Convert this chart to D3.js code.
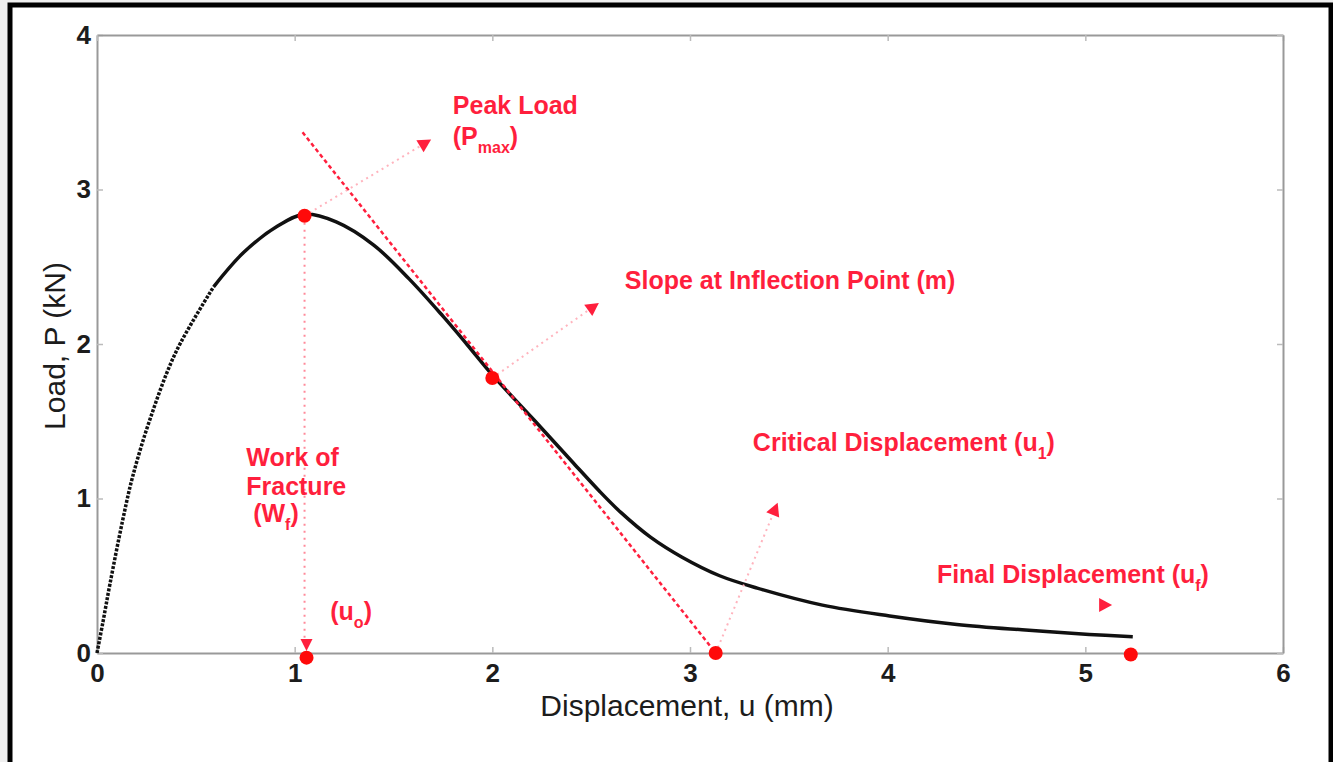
<!DOCTYPE html>
<html>
<head>
<meta charset="utf-8">
<script src="https://cdnjs.cloudflare.com/ajax/libs/d3/7.8.5/d3.min.js"></script>
<style>
  body { margin: 0; background: #efefef; }
  svg { display: block; }
  text { font-family: "Liberation Sans", Arial, sans-serif; }
</style>
</head>
<body>
<svg id="chart" width="1333" height="762"></svg>
<script>
// load-displacement curve (u in mm, P in kN)
var dispU = [0, 0.03, 0.066, 0.13, 0.18, 0.27, 0.40, 0.59, 0.74, 0.91, 1.05, 1.21, 1.40, 1.58, 1.75, 1.87, 2.0,
    2.21, 2.41, 2.54, 2.65, 2.80, 2.96, 3.15, 3.34, 3.67, 4.01, 4.35, 4.68, 5.02, 5.24]
var loadP = [0, 0.20, 0.45, 0.86, 1.14, 1.52, 1.95, 2.37, 2.59, 2.76, 2.84, 2.79, 2.64, 2.42, 2.18, 2.00, 1.80,
    1.51, 1.23, 1.05, 0.91, 0.75, 0.62, 0.50, 0.42, 0.31, 0.24, 0.185, 0.15, 0.12, 0.105]

// red marker dots: peak, inflection, critical, final, u0
var markU = [1.05, 2.0, 3.13, 5.23, 1.06]
var markP = [2.83, 1.78, 0, -0.01, -0.03]

// tangent at the inflection point
var tangentU = [1.04, 3.13]
var tangentP = [3.37, 0]

// annotation arrows: start -> head
var arrowFromU = [1.05, 2.0, 3.13, 5.02]
var arrowFromP = [2.83, 1.78, 0, 0.31]
var arrowToU = [1.66, 2.51, 3.43, 5.10]
var arrowToP = [3.30, 2.24, 0.93, 0.31]

var xTicks = [0, 1, 2, 3, 4, 5, 6]
var yTicks = [0, 1, 2, 3, 4]

const margin = { top: 35, right: 50, bottom: 109, left: 97 };
const width = 1283 - margin.left;
const height = 653 - margin.top;
const red = '#ff1f3d';

var svg = d3.select('#chart')

// frame
svg.append('rect').attr('x', 10).attr('y', 5).attr('width', 1321).attr('height', 780)
    .attr('fill', 'white').attr('stroke', 'black').attr('stroke-width', 5)

var xScale = d3.scaleLinear().domain([0, 6]).range([0, width])
var yScale = d3.scaleLinear().domain([0, 4]).range([height, 0])

var g = svg.append('g').attr('transform', 'translate(' + margin.left + ',' + margin.top + ')')

// axes, matlab style box with inward ticks
var xAxis = d3.axisBottom(xScale).tickValues(xTicks).tickSizeInner(-6).tickSizeOuter(0).tickPadding(11)
    .tickFormat(d3.format('d'))
var yAxis = d3.axisLeft(yScale).tickValues(yTicks).tickSizeInner(-6).tickSizeOuter(0).tickPadding(6)
    .tickFormat(d3.format('d'))

g.append('g').attr('transform', 'translate(0,' + height + ')').call(xAxis)
g.append('g').call(yAxis)
g.append('g').call(d3.axisTop(xScale).tickValues(xTicks).tickSizeInner(-6).tickSizeOuter(0).tickFormat(''))
g.append('g').attr('transform', 'translate(' + width + ',0)')
    .call(d3.axisRight(yScale).tickValues(yTicks).tickSizeInner(-6).tickSizeOuter(0).tickFormat(''))

g.selectAll('.domain').attr('stroke', '#999').attr('stroke-width', 2)
g.selectAll('.tick line').attr('stroke', '#bbb').attr('stroke-width', 1.5)
g.selectAll('.tick text').attr('fill', '#1c1c1c').style('font-size', '26px').style('font-weight', 'bold')

// axis titles
svg.append('text')
    .attr('x', margin.left + width / 2 - 3).attr('y', 716)
    .attr('text-anchor', 'middle').attr('fill', '#1c1c1c').style('font-size', '30px')
    .text('Displacement, u (mm)')
svg.append('text')
    .attr('transform', 'translate(65,346) rotate(-90)')
    .attr('text-anchor', 'middle').attr('fill', '#1c1c1c').style('font-size', '30px')
    .text('Load, P (kN)')

var curve = dispU.map((u, i) => [u, loadP[i]])
var line = d3.line().x(d => xScale(d[0])).y(d => yScale(d[1])).curve(d3.curveCatmullRom)

// sparse rising part looks dotted, the rest is solid
g.append('path').datum(curve.slice(0, 8))
    .attr('d', line).attr('fill', 'none').attr('stroke', '#111')
    .attr('stroke-width', 3.5).attr('stroke-dasharray', '3,1.5')
g.append('path').datum(curve.slice(7))
    .attr('d', line).attr('fill', 'none').attr('stroke', '#111').attr('stroke-width', 3.5)

// tangent line
g.append('line')
    .attr('x1', xScale(tangentU[0])).attr('y1', yScale(tangentP[0]))
    .attr('x2', xScale(tangentU[1])).attr('y2', yScale(tangentP[1]))
    .attr('stroke', red).attr('stroke-width', 2.5).attr('stroke-dasharray', '4,3')

// vertical dotted line from the peak down to u0
g.append('line')
    .attr('x1', xScale(markU[0])).attr('y1', yScale(markP[0]))
    .attr('x2', xScale(markU[0])).attr('y2', yScale(0.05))
    .attr('stroke', '#ff8a9a').attr('stroke-width', 2).attr('stroke-dasharray', '2,5')

// annotation arrows
for (let i = 0; i < arrowFromU.length; i++) {
    let x1 = xScale(arrowFromU[i]), y1 = yScale(arrowFromP[i])
    let x2 = xScale(arrowToU[i]), y2 = yScale(arrowToP[i])
    if (i < 3) {
        g.append('line').attr('x1', x1).attr('y1', y1).attr('x2', x2).attr('y2', y2)
            .attr('stroke', '#ffb3bd').attr('stroke-width', 2).attr('stroke-dasharray', '2,4')
    }
    let ang = Math.atan2(y2 - y1, x2 - x1) * 180 / Math.PI
    g.append('path')
        .attr('d', 'M7,0 L-6,-7 L-6,7 Z')
        .attr('transform', 'translate(' + x2 + ',' + y2 + ') rotate(' + ang + ')')
        .attr('fill', red)
}

// u0 down-pointing triangle on the axis
g.append('path')
    .attr('d', 'M-6,-14 L6,-14 L0,-2 Z')
    .attr('transform', 'translate(' + xScale(markU[4]) + ',' + yScale(0) + ')')
    .attr('fill', red)

// marker dots
g.selectAll('circle.mark')
    .data(markU.map((u, i) => [u, markP[i]]))
    .join('circle')
    .attr('class', 'mark')
    .attr('cx', d => xScale(d[0])).attr('cy', d => yScale(d[1]))
    .attr('r', 7).attr('fill', '#ff0a0a')

// labels: [u, P, main text, subscript, closing]
var labels = [
    [1.80, 3.49, 'Peak Load', '', ''],
    [1.80, 3.29, '(P', 'max', ')'],
    [2.67, 2.356, 'Slope at Inflection Point (m)', '', ''],
    [0.755, 1.21, 'Work of', '', ''],
    [0.755, 1.02, 'Fracture', '', ''],
    [0.79, 0.85, '(W', 'f', ')'],
    [1.18, 0.214, '(u', 'o', ')'],
    [3.318, 1.307, 'Critical Displacement (u', '1', ')'],
    [4.249, 0.453, 'Final Displacement (u', 'f', ')']
]

labels.forEach(l => {
    let t = g.append('text')
        .attr('x', xScale(l[0])).attr('y', yScale(l[1]))
        .attr('fill', red).style('font-size', '25px').style('font-weight', 'bold')
    t.append('tspan').text(l[2])
    if (l[3] != '') {
        t.append('tspan').attr('dy', 8).style('font-size', '16px').text(l[3])
        t.append('tspan').attr('dy', -8).text(l[4])
    }
})
</script>
</body>
</html>
